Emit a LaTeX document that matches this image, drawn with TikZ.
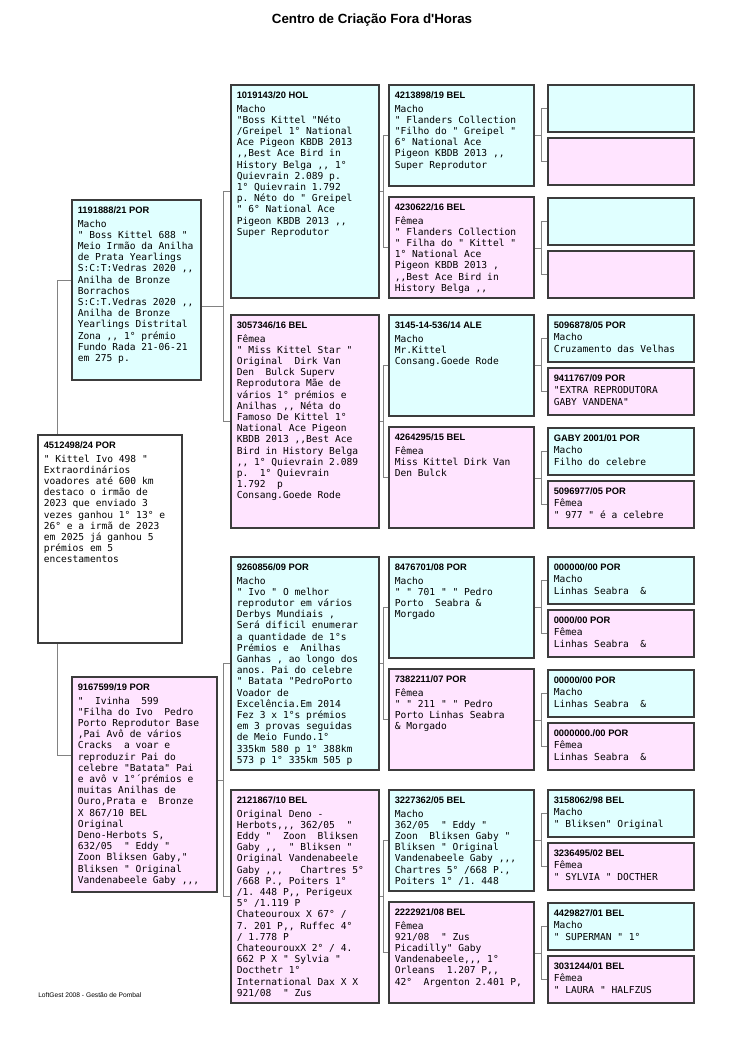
\documentclass[tikz,border=0pt]{standalone}
\usepackage{fontspec}
\setmonofont{DejaVu Sans Mono}
\newfontfamily\sansf{Liberation Sans}
\usetikzlibrary{calc}
\pgfdeclarelayer{back}
\pgfdeclarelayer{mid}
\pgfsetlayers{back,mid,main}
\definecolor{cy}{RGB}{224,255,255}
\definecolor{pk}{RGB}{255,228,255}
\definecolor{frame}{RGB}{60,60,60}
\definecolor{conn}{RGB}{130,130,130}
\newcommand\bodyfont{\ttfamily\fontsize{7.2}{8.4}\selectfont\frenchspacing}
\newcommand\hf{\sansf\bfseries\fontsize{7}{8.4}\selectfont}
\tikzset{
  pbox/.style={draw=frame, line width=0.8pt, inner sep=0pt, outer sep=0pt, rectangle},
  ptxt/.style={inner sep=0pt, anchor=north west, align=left, font=\bodyfont},
  con/.style={draw=conn, line width=0.6pt},
}
% name, x, y, w, h, fill, text
\newcommand\pb[7]{%
  \node[pbox, fill=#6, minimum width=#4*0.75pt, minimum height=#5*0.75pt, anchor=north west] (#1) at (#2,#3) {};
  \node[ptxt] (#1t) at ($(#1.north west)+(5.5,6)$) {#7};
}
% parent, sire, dam, bracket x
\newcommand\bracket[4]{%
  \coordinate (#1x) at (#4,0);
  \coordinate (#1m) at ($(#2.west -| #1x)!0.5!(#3.west -| #1x)$);
  \begin{pgfonlayer}{mid}
  \draw[con] (#2.west) -- (#2.west -| #1x) -- (#3.west -| #1x) -- (#3.west);
  \draw[con] (#1.east |- #1m) -- (#1m);
  \end{pgfonlayer}
}
\begin{document}
\begin{tikzpicture}[x=0.75pt,y=-0.75pt]
\begin{pgfonlayer}{back}
\fill[white] (0,0) rectangle (750,1060);
\end{pgfonlayer}
\useasboundingbox (0,0) rectangle (750,1060);

\node[font=\sansf\bfseries\fontsize{10}{12}\selectfont] (title) at (372,20) {Centro de Criação Fora d'Horas};
\node[anchor=west, inner sep=0pt, font=\sansf\fontsize{5}{6}\selectfont] (foot) at (38,995) {LoftGest 2008 - Gestão de Pombal};

% ---------- column 0 ----------
\pb{sub}{38}{435}{144}{208}{white}{{\hf 4512498/24 POR}\\[2.2pt]
" Kittel Ivo 498 "\\
Extraordinários\\
voadores até 600 km\\
destaco o irmão de\\
2023 que enviado 3\\
vezes ganhou 1° 13° e\\
26° e a irmã de 2023\\
em 2025 já ganhou 5\\
prémios em 5\\
encestamentos}

% ---------- column 1 ----------
\pb{s1}{72}{200}{129}{180}{cy}{{\hf 1191888/21 POR}\\[2.2pt]
Macho\\
" Boss Kittel 688 "\\
Meio Irmão da Anilha\\
de Prata Yearlings\\
S:C:T:Vedras 2020 ,,\\
Anilha de Bronze\\
Borrachos\\
S:C:T.Vedras 2020 ,,\\
Anilha de Bronze\\
Yearlings Distrital\\
Zona ,, 1° prémio\\
Fundo Rada 21-06-21\\
em 275 p.}

\pb{d1}{72}{677}{145}{215}{pk}{{\hf 9167599/19 POR}\\[2.2pt]
"~~Ivinha~~599\\
"Filha do Ivo~~Pedro\\
Porto Reprodutor Base\\
,Pai Avô de vários\\
Cracks~~a voar e\\
reproduzir Pai do\\
celebre "Batata" Pai\\
e avô v 1°´prémios e\\
muitas Anilhas de\\
Ouro,Prata e~~Bronze\\
X 867/10 BEL\\
Original\\
Deno-Herbots S,\\
632/05~~" Eddy "\\
Zoon Bliksen Gaby,"\\
Bliksen " Original\\
Vandenabeele Gaby ,,,}

% ---------- column 2 ----------
\pb{c2a}{231}{85}{148}{213}{cy}{{\hf 1019143/20 HOL}\\[2.2pt]
Macho\\
"Boss Kittel "Néto\\
/Greipel 1° National\\
Ace Pigeon KBDB 2013\\
,,Best Ace Bird in\\
History Belga ,, 1°\\
Quievrain 2.089 p.\\
1° Quievrain 1.792\\
p. Néto do " Greipel\\
" 6° National Ace\\
Pigeon KBDB 2013 ,,\\
Super Reprodutor}

\pb{c2b}{231}{315}{148}{213}{pk}{{\hf 3057346/16 BEL}\\[2.2pt]
Fêmea\\
" Miss Kittel Star "\\
Original~~Dirk Van\\
Den~~Bulck Superv\\
Reprodutora Mãe de\\
vários 1° prémios e\\
Anilhas ,, Néta do\\
Famoso De Kittel 1°\\
National Ace Pigeon\\
KBDB 2013 ,,Best Ace\\
Bird in History Belga\\
,, 1° Quievrain 2.089\\
p.~~1° Quievrain\\
1.792~~p\\
Consang.Goede Rode}

\pb{c2c}{231}{557}{148}{213}{cy}{{\hf 9260856/09 POR}\\[2.2pt]
Macho\\
" Ivo " O melhor\\
reprodutor em vários\\
Derbys Mundiais ,\\
Será dificil enumerar\\
a quantidade de 1°s\\
Prémios e~~Anilhas\\
Ganhas , ao longo dos\\
anos. Pai do celebre\\
" Batata "PedroPorto\\
Voador de\\
Excelência.Em 2014\\
Fez 3 x 1°s prémios\\
em 3 provas seguidas\\
de Meio Fundo.1°\\
335km 580 p 1° 388km\\
573 p 1° 335km 505 p}

\pb{c2d}{231}{790}{148}{213}{pk}{{\hf 2121867/10 BEL}\\[2.2pt]
Original Deno -\\
Herbots,,, 362/05~~"\\
Eddy "~~Zoon~~Bliksen\\
Gaby ,,~~" Bliksen "\\
Original Vandenabeele\\
Gaby ,,,~~~Chartres 5°\\
/668 P., Poiters 1°\\
/1. 448 P,, Perigeux\\
5° /1.119 P\\
Chateouroux X 67° /\\
7. 201 P,, Ruffec 4°\\
/ 1.778 P\\
ChateourouxX 2° / 4.\\
662 P X " Sylvia "\\
Docthetr 1°\\
International Dax X X\\
921/08~~" Zus}

% ---------- column 3 ----------
\pb{c3a}{389}{85}{145}{101}{cy}{{\hf 4213898/19 BEL}\\[2.2pt]
Macho\\
" Flanders Collection\\
"Filho do " Greipel "\\
6° National Ace\\
Pigeon KBDB 2013 ,,\\
Super Reprodutor}
\pb{c3b}{389}{197}{145}{101}{pk}{{\hf 4230622/16 BEL}\\[2.2pt]
Fêmea\\
" Flanders Collection\\
" Filha do " Kittel "\\
1° National Ace\\
Pigeon KBDB 2013 ,\\
,,Best Ace Bird in\\
History Belga ,,}
\pb{c3c}{389}{315}{145}{101}{cy}{{\hf 3145-14-536/14 ALE}\\[2.2pt]
Macho\\
Mr.Kittel\\
Consang.Goede Rode}
\pb{c3d}{389}{427}{145}{101}{pk}{{\hf 4264295/15 BEL}\\[2.2pt]
Fêmea\\
Miss Kittel Dirk Van\\
Den Bulck}
\pb{c3e}{389}{557}{145}{101}{cy}{{\hf 8476701/08 POR}\\[2.2pt]
Macho\\
" " 701 " " Pedro\\
Porto~~Seabra \&\\
Morgado}
\pb{c3f}{389}{669}{145}{101}{pk}{{\hf 7382211/07 POR}\\[2.2pt]
Fêmea\\
" " 211 " " Pedro\\
Porto Linhas Seabra\\
\& Morgado}
\pb{c3g}{389}{790}{145}{101}{cy}{{\hf 3227362/05 BEL}\\[2.2pt]
Macho\\
362/05~~" Eddy "\\
Zoon~~Bliksen Gaby "\\
Bliksen " Original\\
Vandenabeele Gaby ,,,\\
Chartres 5° /668 P.,\\
Poiters 1° /1. 448}
\pb{c3h}{389}{902}{145}{101}{pk}{{\hf 2222921/08 BEL}\\[2.2pt]
Fêmea\\
921/08~~" Zus\\
Picadilly" Gaby\\
Vandenabeele,,, 1°\\
Orleans~~1.207 P,,\\
42°~~Argenton 2.401 P,}

% ---------- column 4 ----------
\pb{h1}{548}{85}{146}{47}{cy}{}
\pb{h2}{548}{138}{146}{47}{pk}{}
\pb{h3}{548}{198}{146}{47}{cy}{}
\pb{h4}{548}{251}{146}{47}{pk}{}
\pb{h5}{548}{315}{146}{47}{cy}{{\hf 5096878/05 POR}\\[1.2pt]Macho\\Cruzamento das Velhas}
\pb{h6}{548}{368}{146}{47}{pk}{{\hf 9411767/09 POR}\\[1.2pt]"EXTRA REPRODUTORA\\GABY VANDENA"}
\pb{h7}{548}{428}{146}{47}{cy}{{\hf GABY 2001/01 POR}\\[1.2pt]Macho\\Filho do celebre}
\pb{h8}{548}{481}{146}{47}{pk}{{\hf 5096977/05 POR}\\[1.2pt]Fêmea\\" 977 " é a celebre}
\pb{h9}{548}{557}{146}{47}{cy}{{\hf 000000/00 POR}\\[1.2pt]Macho\\Linhas Seabra~~\&}
\pb{h10}{548}{610}{146}{47}{pk}{{\hf 0000/00 POR}\\[1.2pt]Fêmea\\Linhas Seabra~~\&}
\pb{h11}{548}{670}{146}{47}{cy}{{\hf 00000/00 POR}\\[1.2pt]Macho\\Linhas Seabra~~\&}
\pb{h12}{548}{723}{146}{47}{pk}{{\hf 0000000./00 POR}\\[1.2pt]Fêmea\\Linhas Seabra~~\&}
\pb{h13}{548}{790}{146}{47}{cy}{{\hf 3158062/98 BEL}\\[1.2pt]Macho\\" Bliksen" Original}
\pb{h14}{548}{843}{146}{47}{pk}{{\hf 3236495/02 BEL}\\[1.2pt]Fêmea\\" SYLVIA " DOCTHER}
\pb{h15}{548}{903}{146}{47}{cy}{{\hf 4429827/01 BEL}\\[1.2pt]Macho\\" SUPERMAN " 1°}
\pb{h16}{548}{956}{146}{47}{pk}{{\hf 3031244/01 BEL}\\[1.2pt]Fêmea\\" LAURA " HALFZUS}

% ---------- connectors ----------
\bracket{c3a}{h1}{h2}{541}
\bracket{c3b}{h3}{h4}{541}
\bracket{c3c}{h5}{h6}{541}
\bracket{c3d}{h7}{h8}{541}
\bracket{c3e}{h9}{h10}{541}
\bracket{c3f}{h11}{h12}{541}
\bracket{c3g}{h13}{h14}{541}
\bracket{c3h}{h15}{h16}{541}
\bracket{c2a}{c3a}{c3b}{383}
\bracket{c2b}{c3c}{c3d}{383}
\bracket{c2c}{c3e}{c3f}{383}
\bracket{c2d}{c3g}{c3h}{383}
\bracket{s1}{c2a}{c2b}{223}
\bracket{d1}{c2c}{c2d}{223}
\coordinate (b0) at (57,0);
\coordinate (s1L) at ($(s1.north west)+(0,80)$);
\coordinate (d1L) at ($(d1.north west)+(0,78)$);
\begin{pgfonlayer}{mid}
\draw[con] (s1L) -- (s1L -| b0) -- (d1L -| b0) -- (d1L);
\end{pgfonlayer}
\end{tikzpicture}
\end{document}
